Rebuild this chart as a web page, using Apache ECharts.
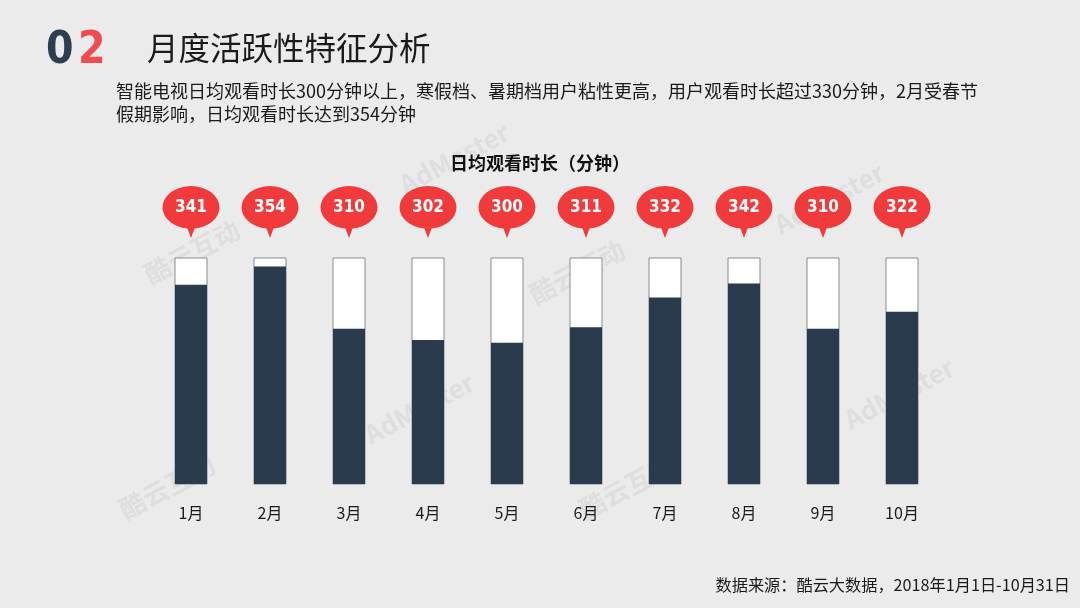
<!DOCTYPE html>
<html>
<head>
<meta charset="utf-8">
<script src="https://cdn.jsdelivr.net/npm/echarts@6/dist/echarts.min.js"></script>
<style>
html,body{margin:0;padding:0;background:#ebebeb;}
#c{width:1080px;height:608px;}
</style>
</head>
<body>
<div id="c"></div>
<script>
const months = ['1月','2月','3月','4月','5月','6月','7月','8月','9月','10月'];
const minutes = [341, 354, 310, 302, 300, 311, 332, 342, 310, 322];
const axisMin = 200;
const axisMax = 360;

const CJK = '"Noto Sans CJK SC", "Microsoft YaHei", sans-serif';
const bubblePath = 'path://M0,21 A28,21 0 1,1 56,21 A28,21 0 0,1 31.5,41.8 L28,51 L24.5,41.8 A28,21 0 0,1 0,21 Z';

const watermarks = [
  {t:'AdMaster', x:395, y:175, r:28},
  {t:'AdMaster', x:770, y:215, r:28},
  {t:'AdMaster', x:360, y:425, r:28},
  {t:'AdMaster', x:840, y:410, r:28},
  {t:'酷云互动', x:140, y:265, r:28},
  {t:'酷云互动', x:525, y:285, r:28},
  {t:'酷云互动', x:115, y:500, r:28},
  {t:'酷云互动', x:575, y:500, r:28}
];

const chart = echarts.init(document.getElementById('c'), null, {renderer:'canvas'});
chart.setOption({
  backgroundColor: '#ebebeb',
  animation: false,
  graphic: [
    ...watermarks.map(w => ({
      type:'text', x:w.x, y:w.y, rotation: w.r*Math.PI/180, z:0,
      style:{text:w.t, fill:'rgba(0,0,0,0.055)', font:'bold 26px ' + CJK}
    })),
    {type:'text', left:46, top:30, z:10,
      style:{text:'0', fill:'#2d3e50', font:'bold 44px "DejaVu Sans Condensed", sans-serif',
        shadowBlur:6, shadowColor:'rgba(0,0,0,0.35)', shadowOffsetX:3, shadowOffsetY:4}},
    {type:'text', left:78, top:30, z:10,
      style:{text:'2', fill:'#f04b50', font:'bold 44px "DejaVu Sans Condensed", sans-serif',
        shadowBlur:6, shadowColor:'rgba(0,0,0,0.3)', shadowOffsetX:3, shadowOffsetY:4}},
    {type:'text', left:147, top:32, z:10,
      style:{text:'月度活跃性特征分析', fill:'#1a1a1a', font:'31.5px ' + CJK}},
    {type:'text', left:116, top:80, z:10,
      style:{text:'智能电视日均观看时长300分钟以上，寒假档、暑期档用户粘性更高，用户观看时长超过330分钟，2月受春节\n假期影响，日均观看时长达到354分钟',
        fill:'#1a1a1a', font:'18px ' + CJK, lineHeight:23}},
    {type:'text', right:10, top:577, z:10,
      style:{text:'数据来源：酷云大数据，2018年1月1日-10月31日', fill:'#1a1a1a', font:'16.2px ' + CJK}}
  ],
  title: {
    text: '日均观看时长（分钟）',
    left: 'center', top: 149,
    textStyle: {fontFamily: CJK, fontSize: 18, fontWeight: 'bold', color: '#111'}
  },
  grid: {left: 151.5, right: 138.5, top: 258, bottom: 124},
  xAxis: {
    type: 'category', data: months,
    axisLine: {show:false}, axisTick: {show:false},
    axisLabel: {fontFamily: CJK, fontSize: 16, color: '#1a1a1a', margin: 21}
  },
  yAxis: {type:'value', min: axisMin, max: axisMax, show:false, splitLine:{show:false}},
  series: [{
    type: 'bar',
    data: minutes,
    barWidth: 32,
    itemStyle: {color: '#2b3b4e'},
    showBackground: true,
    backgroundStyle: {color: '#ffffff', borderColor: '#858c95', borderWidth: 1},
    markPoint: {
      symbol: bubblePath,
      symbolSize: [57, 52],
      symbolOffset: [0, -46],
      itemStyle: {color: '#f03a3c'},
      label: {
        show: true, color: '#fff', offset: [0, -4.5],
        fontFamily: '"DejaVu Sans Condensed", sans-serif',
        fontWeight: 'bold', fontSize: 17
      },
      data: months.map((m, i) => ({coord: [m, axisMax], value: minutes[i]}))
    }
  }]
});
</script>
</body>
</html>
